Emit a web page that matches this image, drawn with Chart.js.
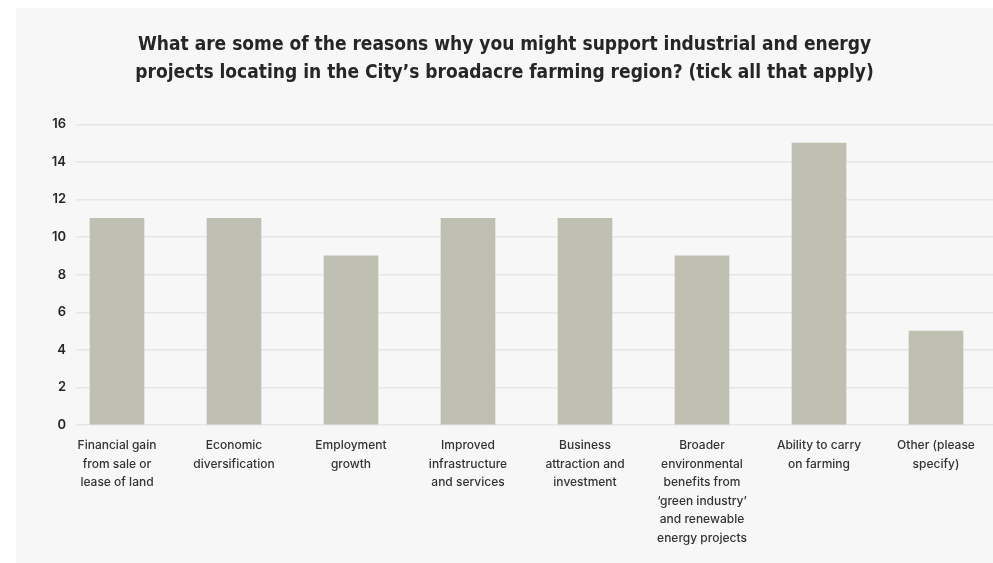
<!DOCTYPE html>
<html>
<head>
<meta charset="utf-8">
<script src="https://cdn.jsdelivr.net/npm/chart.js@4.4.1/dist/chart.umd.min.js"></script>
<style>
  html, body { margin: 0; padding: 0; background: #ffffff; overflow: hidden; }
  #panel { position: absolute; left: 16px; top: 8px; width: 977px; height: 555px; background: #f7f7f7; }
  canvas { display: block; }
</style>
</head>
<body>
<div id="panel"><canvas id="c" width="977" height="555"></canvas></div>
<script>
// Survey responses: reasons for supporting industrial and energy projects
const titleLines = [
  "What are some of the reasons why you might support industrial and energy",
  "projects locating in the City\u2019s broadacre farming region? (tick all that apply)"
];
const categories = [
  ["Financial gain", "from sale or", "lease of land"],
  ["Economic", "diversification"],
  ["Employment", "growth"],
  ["Improved", "infrastructure", "and services"],
  ["Business", "attraction and", "investment"],
  ["Broader", "environmental", "benefits from", "\u2018green industry\u2019", "and renewable", "energy projects"],
  ["Ability to carry", "on farming"],
  ["Other (please", "specify)"]
];
const responses = [11, 11, 9, 11, 11, 9, 15, 5];
const yTicks = [0, 2, 4, 6, 8, 10, 12, 14, 16];

new Chart(document.getElementById('c'), {
  type: 'bar',
  data: {
    datasets: [{
      data: responses.map((v, i) => ({ x: i, y: v })),
      backgroundColor: '#bfc0b2',
      borderWidth: 0,
      barThickness: 54
    }]
  },
  options: {
    responsive: false,
    animation: false,
    layout: { padding: { left: 0, right: 0, top: 0, bottom: 0 } },
    plugins: {
      legend: { display: false },
      tooltip: { enabled: false },
      title: {
        display: true,
        text: titleLines,
        color: '#262626',
        font: { family: '"Liberation Sans Narrow", "DejaVu Sans Condensed", "Roboto", sans-serif', size: 19, weight: 'bold', lineHeight: 1.47 },
        padding: { top: 23, bottom: 37.5 }
      }
    },
    scales: {
      x: {
        type: 'linear',
        offset: false,
        min: -0.3504,
        max: (977 + 16 - 117) / 117,
        grid: { display: false, offset: false },
        border: { display: false },
        afterBuildTicks: (s) => { s.ticks = categories.map((_, i) => ({ value: i })); },
        afterFit: (s) => { s.height = 555 - 417; },
        ticks: {
          autoSkip: false,
          maxRotation: 0,
          padding: 3,
          color: '#333333',
          font: { family: 'Inter, "Open Sans", sans-serif', size: 12, weight: '500', lineHeight: 1.55 },
          callback: (v) => categories[v]
        }
      },
      y: {
        min: 0,
        max: 16,
        afterBuildTicks: (s) => { s.ticks = yTicks.map(v => ({ value: v })); },
        afterFit: (s) => { s.width = 60; },
        grid: { color: '#e6e6e6', lineWidth: 1.5, drawTicks: false },
        border: { display: false },
        ticks: {
          padding: 10,
          color: '#262626',
          font: { family: 'Inter, "Open Sans", sans-serif', size: 13, weight: '600' }
        }
      }
    }
  }
});
</script>
</body>
</html>
